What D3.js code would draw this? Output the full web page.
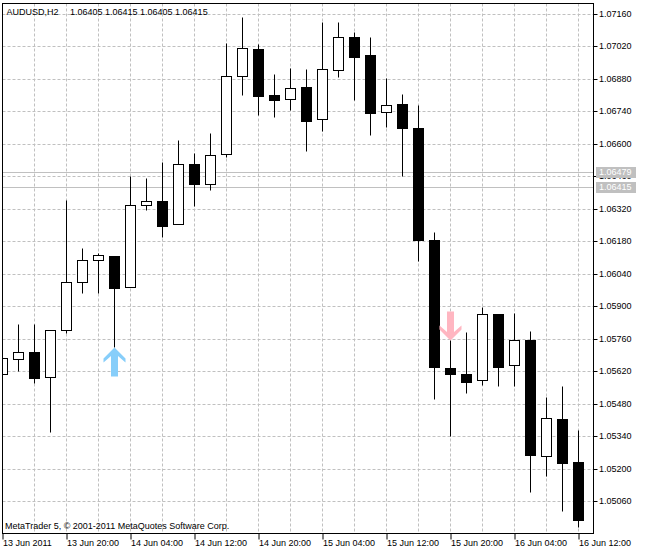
<!DOCTYPE html>
<html><head><meta charset="utf-8">
<script src="https://cdn.jsdelivr.net/npm/d3@7/dist/d3.min.js"></script>
<style>body{margin:0;background:#fff}svg{display:block}text{font-family:"Liberation Sans",Arial,sans-serif;font-size:9px}</style>
</head><body><svg id="c" width="646" height="554"></svg>
<script>
const symbolTitle = "AUDUSD,H2";
const titleValues = "1.06405 1.06415 1.06405 1.06415";
const copyright = "MetaTrader 5, \u00A9 2001-2011 MetaQuotes Software Corp.";
const open  = [1.05606,1.05674,1.05703,1.05596,1.05796,1.06003,1.06098,1.06116,1.05981,1.06335,1.06352,1.06253,1.06512,1.06429,1.06555,1.06891,1.07009,1.06811,1.06792,1.06845,1.06706,1.06917,1.07061,1.06983,1.06736,1.06772,1.06668,1.06185,1.05632,1.05606,1.05580,1.05865,1.05645,1.05753,1.05254,1.05414,1.05228];
const high  = [1.05690,1.05823,1.05823,1.05796,1.06358,1.06152,1.06131,1.06116,1.06461,1.06453,1.06522,1.06617,1.06559,1.06646,1.07035,1.07148,1.07032,1.06901,1.06926,1.06923,1.07126,1.07126,1.07082,1.07061,1.06884,1.06815,1.06768,1.06221,1.05754,1.05787,1.05898,1.05865,1.05869,1.05793,1.05509,1.05556,1.05366];
const low   = [1.05595,1.05621,1.05568,1.05359,1.05783,1.05958,1.05956,1.05725,1.05981,1.06315,1.06200,1.06253,1.06333,1.06402,1.06545,1.06812,1.06726,1.06717,1.06746,1.06571,1.06657,1.06890,1.06789,1.06640,1.06674,1.06463,1.06096,1.05499,1.05342,1.05527,1.05560,1.05556,1.05556,1.05098,1.05168,1.05018,1.04949];
const close = [1.05675,1.05703,1.05592,1.05796,1.06003,1.06099,1.06119,1.05977,1.06335,1.06352,1.06247,1.06512,1.06428,1.06551,1.06891,1.07012,1.06808,1.06790,1.06840,1.06700,1.06923,1.07061,1.06976,1.06734,1.06766,1.06667,1.06185,1.05639,1.05606,1.05572,1.05865,1.05639,1.05753,1.05257,1.05418,1.05225,1.04979];
const priceTicks = [1.07160,1.07020,1.06880,1.06740,1.06600,1.06460,1.06320,1.06180,1.06040,1.05900,1.05760,1.05620,1.05480,1.05340,1.05200,1.05060];
const timeTickIndex = [0,4,8,12,16,20,24,28,32,36];
const timeTickLabels = ["13 Jun 2011","13 Jun 20:00","14 Jun 04:00","14 Jun 12:00","14 Jun 20:00","15 Jun 04:00","15 Jun 12:00","15 Jun 20:00","16 Jun 04:00","16 Jun 12:00"];
const gridIndex = [2,4,6,8,10,12,14,16,18,20,22,24,26,28,30,32,34,36];
const levelPrices = [1.06479, 1.06415];
const upSignals = [{i:7, price:1.05725}];
const downSignals = [{i:28, price:1.05754}];

const L = 2.5, T = 3.5, R = 593.5, B = 533.5;
const svg = d3.select("#c");
svg.append("rect").attr("width",646).attr("height",554).attr("fill","#fff");
const x = d3.scaleLinear().domain([0,36]).range([2.5,578.5]);
const y = d3.scaleLinear().domain([1.05060,1.07160]).range([501.5,14.5]);
const sy = v => Math.round(y(v)-0.5)+0.5;

svg.append("defs").append("clipPath").attr("id","clip")
  .append("rect").attr("x",L+0.5).attr("y",T+0.5).attr("width",R-L-1).attr("height",B-T-1);

const grid = svg.append("g").attr("stroke","#c0c0c0").attr("stroke-dasharray","3,2").attr("stroke-width",1);
grid.selectAll("line.h").data(priceTicks).join("line").attr("class","h")
  .attr("x1",L).attr("x2",R).attr("y1",d=>sy(d)).attr("y2",d=>sy(d));
grid.selectAll("line.v").data(gridIndex).join("line").attr("class","v")
  .attr("x1",d=>x(d)).attr("x2",d=>x(d)).attr("y1",T).attr("y2",B);

svg.append("g").selectAll("line").data(levelPrices).join("line")
  .attr("x1",L).attr("x2",R).attr("y1",d=>sy(d)).attr("y2",d=>sy(d))
  .attr("stroke","#c0c0c0").attr("stroke-width",1);

const bars = d3.range(open.length);
const cg = svg.append("g").attr("clip-path","url(#clip)");
cg.selectAll("line.w").data(bars).join("line").attr("class","w")
  .attr("x1",i=>x(i)).attr("x2",i=>x(i)).attr("y1",i=>sy(high[i])).attr("y2",i=>sy(low[i]))
  .attr("stroke","#000").attr("stroke-width",1);
cg.selectAll("rect.b").data(bars).join("rect").attr("class","b")
  .attr("x",i=>x(i)-5).attr("width",10)
  .attr("y",i=>Math.min(sy(open[i]),sy(close[i])))
  .attr("height",i=>Math.max(1,Math.abs(sy(open[i])-sy(close[i]))))
  .attr("fill",i=>close[i]>=open[i]?"#fff":"#000")
  .attr("stroke","#000").attr("stroke-width",1);

const upPath = "M0,0 L11,11 L11,15 L3.5,8.5 L3.5,29 L-3.5,29 L-3.5,8.5 L-11,15 L-11,11 Z";
svg.selectAll("path.up").data(upSignals).join("path").attr("class","up")
  .attr("d",upPath).attr("fill","#87cefa")
  .attr("transform",d=>`translate(${x(d.i)},${sy(d.price)})`);
svg.selectAll("path.dn").data(downSignals).join("path").attr("class","dn")
  .attr("d",upPath).attr("fill","#ffb6c1")
  .attr("transform",d=>`translate(${x(d.i)},${sy(d.price)}) scale(1,-1)`);

svg.append("rect").attr("x",L).attr("y",T).attr("width",R-L).attr("height",B-T)
  .attr("fill","none").attr("stroke","#000").attr("stroke-width",1);

const ya = svg.append("g").attr("transform",`translate(${R},0)`)
  .call(d3.axisRight(y).tickValues(priceTicks).tickSize(4).tickSizeOuter(0).tickFormat(d3.format(".5f")));
ya.select(".domain").remove();
ya.selectAll(".tick line").attr("stroke","#000").attr("transform",function(){return null;});
ya.selectAll(".tick").attr("transform",d=>`translate(0,${sy(d)})`);
ya.selectAll(".tick text").attr("x",5.5).attr("dy","0.32em").attr("fill","#000")
  .style("font-family","'Liberation Sans',Arial,sans-serif").style("font-size","9px");

const lv = svg.append("g").selectAll("g").data(levelPrices).join("g")
  .attr("transform",d=>`translate(${R+2.5},${sy(d)})`);
lv.append("rect").attr("x",0).attr("y",-5.5).attr("width",40).attr("height",11).attr("fill","#c0c0c0");
lv.append("text").attr("x",3).attr("dy","0.32em").attr("fill","#fff").text(d=>d3.format(".5f")(d));

const xa = svg.append("g").attr("transform",`translate(0,${B})`)
  .call(d3.axisBottom(x).tickValues(timeTickIndex).tickSize(6).tickSizeOuter(0).tickFormat((d,i)=>timeTickLabels[i]));
xa.select(".domain").remove();
xa.selectAll(".tick line").attr("stroke","#000");
xa.selectAll(".tick text").attr("y",12.5).attr("dy",0).attr("text-anchor","start").attr("x",0).attr("fill","#000")
  .style("font-family","'Liberation Sans',Arial,sans-serif").style("font-size","9px");

svg.append("text").attr("x",6.5).attr("y",15).text(symbolTitle);
svg.append("text").attr("x",70).attr("y",15).text(titleValues);
svg.append("text").attr("x",5).attr("y",529).text(copyright);
</script></body></html>
